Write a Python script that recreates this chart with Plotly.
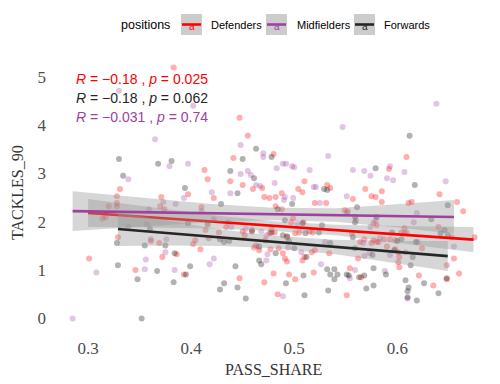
import plotly.graph_objects as go

# ---------------- data ----------------
def_x = [0.383,0.331,0.328,0.371,0.447,0.455,0.480,0.441,0.413,0.416,0.438,0.450,0.510,0.460,0.504,0.508,0.488,0.532,0.535,0.397,0.422,0.471,0.476,0.482,
         0.609,0.592,0.569,0.585,0.641,0.557,0.575,0.579,
         0.328,0.328,0.320,0.370,0.374,0.314,0.317,0.329,0.361,0.369,0.372,0.301,0.346,
         0.469,0.410,0.422,0.434,0.427,0.414,0.417,0.404,0.402,0.409,0.386,0.450,0.452,0.459,0.461,0.463,0.466,0.472,0.476,0.393,0.447,0.471,0.480,0.477,
         0.520,0.549,0.552,0.482,0.488,0.497,0.499,0.509,0.501,0.505,0.515,0.518,0.481,0.478,0.493,0.485,0.489,0.491,0.493,0.508,0.510,0.517,0.520,0.534,0.495,0.501,0.519,0.484,0.551,0.554,0.562,0.564,0.568,0.556,0.577,0.580,
         0.658,0.664,0.611,0.614,0.585,0.640,0.675,0.653,0.655,0.660,0.648,0.648,0.635,0.621,0.602,0.624,0.601,0.602,0.601,0.598,0.590,0.582,0.587,0.593,0.598,0.604,0.607,0.609,
         0.531,0.577,0.580,0.575,0.565]
def_y = [5.19,2.68,2.53,2.51,4.15,3.78,3.40,3.32,3.07,2.88,2.84,2.76,2.84,2.68,2.68,2.61,2.59,2.76,2.70,2.57,2.49,2.51,2.49,2.51,
         3.34,3.09,2.68,2.63,2.57,2.47,2.53,2.51,
         2.39,2.32,2.32,2.32,2.26,2.07,2.10,1.68,1.60,1.56,1.27,1.24,1.00,
         2.70,2.30,2.05,1.89,1.78,1.83,1.66,1.62,1.54,1.43,1.33,1.80,1.72,1.83,1.47,1.51,1.41,1.62,1.76,0.91,0.83,0.75,0.93,1.43,
         2.39,2.24,2.22,2.32,2.26,1.99,2.07,1.99,1.76,1.78,1.80,1.78,1.78,1.85,1.68,1.45,1.35,1.24,1.18,1.20,1.27,1.37,1.41,1.35,0.91,0.81,0.95,0.50,0.48,1.04,1.24,1.58,1.64,1.76,1.62,1.58,
         2.41,2.22,2.39,2.41,2.41,1.89,1.68,1.68,1.24,0.93,0.81,1.10,0.68,0.89,1.06,1.45,1.37,1.27,1.16,1.43,1.49,1.58,1.64,1.64,1.62,1.78,1.87,1.78,
         2.39,1.97,1.93,1.56,0.85]

mid_x = [0.330,0.402,0.365,0.379,0.397,0.339,0.393,
         0.448,0.470,0.470,0.489,0.492,0.498,0.500,0.483,0.515,0.533,0.455,0.448,0.458,0.463,0.467,0.481,0.519,0.521,0.420,0.438,0.491,0.499,
         0.638,0.547,0.557,0.568,0.593,0.574,0.590,0.596,0.607,0.647,0.551,
         0.373,0.359,0.357,0.339,0.361,0.376,0.375,0.356,0.308,0.355,0.285,
         0.385,0.410,0.436,0.439,0.453,0.468,0.473,0.422,0.384,0.418,0.473,0.474,
         0.490,0.525,0.560,0.503,0.494,0.507,0.526,0.489,0.559,0.554,0.568,0.551,0.574,
         0.619,0.616,0.655,0.610,0.588,0.593,0.608,0.607,0.620,
         0.530,0.579,0.583,0.567,0.573]
mid_y = [4.71,4.40,3.71,3.15,3.20,2.88,2.49,
         3.59,3.42,3.34,3.20,3.20,3.15,3.13,3.11,3.07,3.36,3.05,2.99,2.97,2.76,2.74,2.80,2.72,2.72,2.61,2.59,2.51,2.49,
         4.44,3.96,3.07,3.05,3.15,2.95,2.90,2.86,3.03,2.84,2.53,
         2.41,2.26,1.95,1.89,1.64,1.64,1.37,1.22,0.95,1.02,0.0,
         2.37,2.22,1.99,1.89,1.85,1.80,1.72,1.24,1.00,1.12,1.20,1.33,
         2.45,2.39,2.03,1.97,1.47,1.37,1.12,0.46,1.00,0.83,1.29,2.18,1.89,
         2.18,1.99,1.49,0.41,0.98,1.31,1.37,1.76,1.58,
         1.58,2.03,1.66,1.56,1.35]

fwd_x = [0.330,0.368,0.381,0.334,0.394,
         0.463,0.478,0.450,0.438,0.461,0.529,0.532,
         0.612,0.579,0.617,
         0.360,0.328,0.355,0.375,0.329,0.367,0.348,0.352,
         0.445,0.429,0.397,0.416,0.428,0.432,0.437,0.384,0.459,0.466,0.478,0.395,0.399,0.383,0.443,0.432,0.428,0.445,0.453,0.466,0.468,
         0.498,0.559,0.484,0.491,0.508,0.511,0.489,0.493,0.495,0.500,0.482,0.512,0.527,0.524,0.535,0.492,0.509,0.510,0.533,0.532,0.539,0.535,0.539,0.542,0.551,0.553,0.563,0.568,0.570,0.577,0.559,0.580,0.561,
         0.649,0.633,0.642,0.646,0.649,0.648,0.640,0.626,0.608,0.611,0.610,0.610,0.619,0.589,0.613,0.615,0.597,0.595,0.600,0.604,
         0.559,0.557,0.576,0.577,0.618]
fwd_y = [3.30,3.20,3.26,2.95,2.70,
         3.51,3.34,3.30,3.05,2.90,2.68,2.66,
         3.78,3.11,2.76,
         1.85,1.56,1.51,1.51,1.10,0.98,0.81,0.0,
         2.59,2.37,1.97,1.95,1.64,1.58,1.60,1.35,1.80,1.49,1.78,0.91,1.08,0.75,1.08,0.73,0.60,0.64,0.41,1.20,1.12,
         2.37,2.10,2.26,2.03,1.97,1.76,1.72,1.70,1.60,1.45,1.35,1.27,1.93,1.78,1.56,0.73,0.89,0.48,0.58,1.02,1.02,0.91,0.81,0.91,0.91,0.89,0.85,0.89,0.62,0.68,1.45,2.10,2.30,
         2.34,2.05,1.76,1.83,1.72,0.83,0.52,0.73,0.79,0.64,0.56,0.44,0.37,0.91,1.10,1.27,1.41,1.78,1.60,1.64,
         1.99,1.68,1.31,1.04,1.58]

# regression fits: x, fitted value, lower, upper
def_fit_x = [0.300, 0.360, 0.420, 0.480, 0.540, 0.600, 0.674]
def_fit_y = [2.18, 2.09, 2.00, 1.91, 1.83, 1.74, 1.63]
def_lo    = [1.89, 1.88, 1.86, 1.81, 1.72, 1.57, 1.37]
def_hi    = [2.47, 2.30, 2.14, 2.01, 1.94, 1.91, 1.89]

mid_fit_x = [0.285, 0.350, 0.420, 0.480, 0.540, 0.600, 0.655]
mid_fit_y = [2.22, 2.20, 2.18, 2.16, 2.14, 2.12, 2.10]
mid_lo    = [1.81, 1.90, 1.99, 2.03, 2.00, 1.88, 1.75]
mid_hi    = [2.63, 2.50, 2.37, 2.29, 2.28, 2.36, 2.45]

fwd_fit_x = [0.329, 0.380, 0.430, 0.480, 0.540, 0.600, 0.649]
fwd_fit_y = [1.85, 1.76, 1.67, 1.58, 1.48, 1.37, 1.29]
fwd_lo    = [1.50, 1.51, 1.50, 1.45, 1.33, 1.14, 0.98]
fwd_hi    = [2.19, 2.01, 1.84, 1.71, 1.63, 1.60, 1.60]

groups = ["Defenders", "Midfielders", "Forwards"]
stat_labels = ["<i>R</i> = \u22120.18 , <i>p</i> = 0.025",
               "<i>R</i> = \u22120.18 , <i>p</i> = 0.062",
               "<i>R</i> = \u22120.031 , <i>p</i> = 0.74"]
stat_y = [4.96, 4.56, 4.17]
x_ticks = [0.3, 0.4, 0.5, 0.6]
y_ticks = [0, 1, 2, 3, 4, 5]

# ---------------- styles ----------------
col_line = {"Defenders": "#FF0000", "Midfielders": "#A0409F", "Forwards": "#262626"}
col_pt = {"Defenders": "rgba(255,0,0,0.32)", "Midfielders": "rgba(160,64,159,0.30)",
          "Forwards": "rgba(0,0,0,0.30)"}
band_fill = "rgba(153,153,153,0.4)"
serif = "Liberation Serif, DejaVu Serif, serif"
sans = "Liberation Sans, Arial, sans-serif"

L, R, T, B = 52, 10, 56, 53
W, H = 500, 384
PW, PH = W - L - R, H - T - B

def px(xp):
    return (xp - L) / PW

def py(yp):
    return (H - B - yp) / PH

fig = go.Figure()

pts = {"Defenders": (def_x, def_y), "Midfielders": (mid_x, mid_y), "Forwards": (fwd_x, fwd_y)}
for g in groups:
    xs, ys = pts[g]
    fig.add_trace(go.Scatter(x=xs, y=ys, mode="markers", showlegend=False,
                             marker=dict(size=6, color=col_pt[g], line=dict(width=0))))

fits = {"Defenders": (def_fit_x, def_fit_y, def_lo, def_hi),
        "Midfielders": (mid_fit_x, mid_fit_y, mid_lo, mid_hi),
        "Forwards": (fwd_fit_x, fwd_fit_y, fwd_lo, fwd_hi)}
for g in groups:
    fx, fy, lo, hi = fits[g]
    fig.add_trace(go.Scatter(x=fx + fx[::-1], y=hi + lo[::-1], fill="toself", mode="lines",
                             fillcolor=band_fill, line=dict(width=0), showlegend=False,
                             hoverinfo="skip"))
    fig.add_trace(go.Scatter(x=fx, y=fy, mode="lines", showlegend=False,
                             line=dict(color=col_line[g], width=2.6)))

# stat labels
for lab, yv, g in zip(stat_labels, stat_y, ["Defenders", "Forwards", "Midfielders"]):
    fig.add_annotation(x=0.2864, y=yv, xref="x", yref="y", text=lab, showarrow=False,
                       xanchor="left", yanchor="middle",
                       font=dict(family=sans, size=14, color=col_line[g]))

# legend (manual, ggplot-like)
fig.add_annotation(x=px(119), y=py(25), xref="paper", yref="paper", text="positions",
                   showarrow=False, xanchor="left", yanchor="middle",
                   font=dict(family=sans, size=12.5, color="#000000"))
key_x = [181, 266, 354]
txt_x = [209, 295, 382]
for g, kx, tx in zip(groups, key_x, txt_x):
    fig.add_shape(type="rect", xref="paper", yref="paper", x0=px(kx), x1=px(kx + 21),
                  y0=py(35), y1=py(14), fillcolor="#CCCCCC", line=dict(width=0), layer="above")
    fig.add_shape(type="line", xref="paper", yref="paper", x0=px(kx + 1), x1=px(kx + 20),
                  y0=py(24.5), y1=py(24.5), line=dict(color=col_line[g], width=2.6), layer="above")
    fig.add_annotation(x=px(kx + 10.5), y=py(27), xref="paper", yref="paper", text="a",
                       showarrow=False, xanchor="center", yanchor="middle",
                       font=dict(family=sans, size=10, color=col_line[g]))
    fig.add_annotation(x=px(tx), y=py(25), xref="paper", yref="paper", text=g,
                       showarrow=False, xanchor="left", yanchor="middle",
                       font=dict(family=sans, size=11, color="#000000"))

# axis titles
fig.add_annotation(x=px(273), y=py(369), xref="paper", yref="paper", text="PASS_SHARE",
                   showarrow=False, xanchor="center", yanchor="middle",
                   font=dict(family=serif, size=16, color="#333333"))
fig.add_annotation(x=px(17), y=py(193), xref="paper", yref="paper", text="TACKLES_90",
                   showarrow=False, textangle=-90, xanchor="center", yanchor="middle",
                   font=dict(family=serif, size=16, color="#333333"))

fig.update_layout(
    width=W, height=H, margin=dict(l=L, r=R, t=T, b=B),
    paper_bgcolor="white", plot_bgcolor="white", showlegend=False,
    xaxis=dict(range=[0.265, 0.69], tickvals=x_ticks, ticktext=[str(v) for v in x_ticks],
               showgrid=False, zeroline=False, showline=False, ticks="",
               ticklabelstandoff=5,
               tickfont=dict(family=serif, size=17, color="#4D4D4D")),
    yaxis=dict(range=[-0.26, 5.43], tickvals=y_ticks, ticktext=[str(v) for v in y_ticks],
               showgrid=False, zeroline=False, showline=False, ticks="",
               ticklabelstandoff=5,
               tickfont=dict(family=serif, size=17, color="#4D4D4D")),
)

fig.write_html("out.html", config={"displayModeBar": False},
               post_script="document.body.style.margin='0';document.body.style.padding='0';")
